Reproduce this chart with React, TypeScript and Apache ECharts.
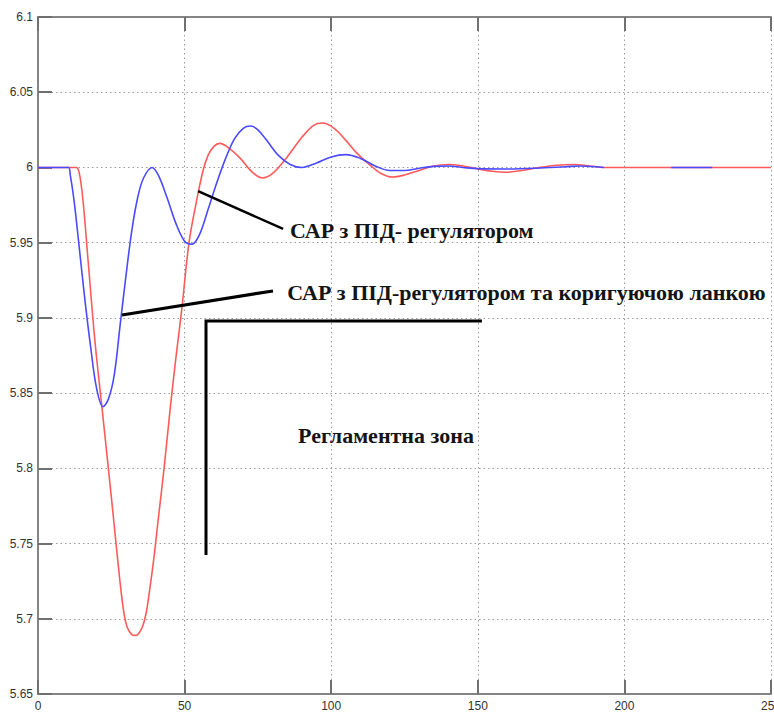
import React, { useEffect, useRef } from "react";
import * as echarts from "echarts";

// Time axis ticks and value axis ticks
const xTicks = [0, 50, 100, 150, 200, 250];
const yMin = 5.65;
const yMax = 6.1;

// САР з ПІД-регулятором (blue)
const pidT = [0, 10.4, 11, 12.3, 14, 16, 18, 20, 22.2, 24, 26, 28, 30, 32, 34, 36, 38.9, 41, 44, 47, 50, 52.5, 55, 58, 61, 64, 67, 70, 72.5, 75, 78, 82, 86, 90, 95, 100, 105, 110, 115, 120, 125, 130, 135, 140, 145, 150, 160, 170, 180, 185, 193];
const pidY = [6.0, 6.0, 5.995, 5.978, 5.948, 5.912, 5.88, 5.853, 5.841, 5.846, 5.862, 5.895, 5.928, 5.958, 5.98, 5.993, 6.0, 5.995, 5.98, 5.963, 5.951, 5.949, 5.955, 5.972, 5.99, 6.006, 6.019, 6.026, 6.0275, 6.025, 6.018, 6.008, 6.002, 6.0, 6.003, 6.007, 6.0085, 6.006, 6.001, 5.998, 5.998, 5.9995, 6.0007, 6.001, 6.0, 5.9992, 5.999, 5.9995, 6.0005, 6.001, 6.0];
const pidTailT = [216, 230];
const pidTailY = [6.0, 6.0];

// САР з ПІД-регулятором та коригуючою ланкою (red)
const corrT = [0, 13, 14, 15.3, 17, 19.4, 22, 24, 26, 28, 29.3, 30.5, 32, 33, 34, 35.5, 36.8, 38, 39.5, 41, 43, 45, 47, 49, 51.5, 54, 56.3, 58, 60, 62, 65, 69, 73, 76.5, 80, 85, 90, 94, 97, 101, 105, 109, 113, 117, 121, 125, 130, 135, 140, 145, 150, 155, 160, 165, 171, 177, 183, 188, 193, 250];
const corrY = [6.0, 6.0, 5.997, 5.979, 5.94, 5.885, 5.837, 5.8, 5.762, 5.724, 5.704, 5.694, 5.6895, 5.689, 5.6895, 5.694, 5.703, 5.718, 5.74, 5.766, 5.8, 5.838, 5.873, 5.905, 5.95, 5.977, 5.998, 6.008, 6.014, 6.016, 6.013, 6.006, 5.997, 5.993, 5.996, 6.007, 6.02, 6.028, 6.0295, 6.026, 6.018, 6.009, 6.002, 5.996, 5.9936, 5.995, 5.998, 6.001, 6.002, 6.001, 5.999, 5.9975, 5.9968, 5.998, 6.0, 6.0015, 6.002, 6.001, 6.0, 6.0];

// Annotations (data coordinates)
const pointer1 = [[54.6, 5.9843], [83.6, 5.9591]];
const pointer2 = [[28.65, 5.9019], [80.15, 5.9179]];
const zoneCorner = [57.3, 5.8979];
const zoneBottomY = 5.7424;
const zoneRightX = 151.4;
const label1 = { text: "САР з ПІД- регулятором", at: [85.95, 5.9584] };
const label2 = { text: "САР з ПІД-регулятором та коригуючою ланкою", at: [85.0, 5.9172] };
const label3 = { text: "Регламентна зона", at: [88.68, 5.8218] };

const zip = (t: number[], y: number[]) => t.map((v, i) => [v, y[i]]);

export default function App() {
  const ref = useRef<HTMLDivElement>(null);
  useEffect(() => {
    if (!ref.current) return;
    const chart = echarts.init(ref.current, undefined, { renderer: "svg" });
    const axisLine = { show: true, lineStyle: { color: "#858585", width: 2 } };
    const axisTick = { show: true, inside: true, length: 14, lineStyle: { color: "#707070", width: 2 } };
    const splitLine = { show: true, lineStyle: { color: "#9a9a9a", width: 1, type: [1.5, 3] as any } };
    const label = { color: "#333", fontFamily: "Liberation Sans", fontSize: 12 };
    const pidData: any[] = zip(pidT, pidY);
    pidData.push([200, null]);
    zip(pidTailT, pidTailY).forEach((p) => pidData.push(p));
    chart.setOption({
      animation: false,
      backgroundColor: "#fff",
      grid: { left: 38, right: 3, top: 17, bottom: 19, containLabel: false, outerBoundsMode: "none" },
      xAxis: [
        {
          type: "value", min: xTicks[0], max: xTicks[xTicks.length - 1], interval: 50,
          position: "bottom", axisLine, axisTick, splitLine,
          axisLabel: { ...label, margin: 6, showMaxLabel: true, hideOverlap: false },
        },
        {
          type: "value", min: xTicks[0], max: xTicks[xTicks.length - 1], interval: 50,
          position: "top", axisLine, axisTick, splitLine: { show: false }, axisLabel: { show: false },
        },
      ],
      yAxis: [
        {
          type: "value", min: yMin, max: yMax, interval: 0.05,
          axisLine, axisTick, splitLine,
          axisLabel: { ...label, margin: 5, formatter: (v: number) => String(parseFloat(v.toFixed(2))) },
        },
      ],
      series: [
        {
          type: "line", data: zip(corrT, corrY), showSymbol: false, smooth: 0.35,
          lineStyle: { color: "#ff5a5a", width: 1.6 }, z: 2,
        },
        {
          type: "line", data: pidData, showSymbol: false, smooth: 0.35, connectNulls: false,
          lineStyle: { color: "#4a4aff", width: 1.6 }, z: 3,
        },
      ],
    });
    const px = (p: number[]) => chart.convertToPixel({ xAxisIndex: 0, yAxisIndex: 0 }, p) as number[];
    const c = px(zoneCorner);
    const b = px([zoneCorner[0], zoneBottomY]);
    const r = px([zoneRightX, zoneCorner[1]]);
    const p1a = px(pointer1[0]), p1b = px(pointer1[1]);
    const p2a = px(pointer2[0]), p2b = px(pointer2[1]);
    const txt = (l: { text: string; at: number[] }) => {
      const p = px(l.at);
      return {
        type: "text", x: p[0], y: p[1], z: 10,
        style: {
          text: l.text, fontFamily: "'Liberation Serif', 'DejaVu Serif', serif", fontWeight: "bold", fontSize: 22,
          fill: "#141414", align: "left", verticalAlign: "middle",
        },
      };
    };
    chart.setOption({
      graphic: [
        { type: "line", z: 10, shape: { x1: p1a[0], y1: p1a[1], x2: p1b[0], y2: p1b[1] }, style: { stroke: "#000", lineWidth: 2.5 } },
        { type: "line", z: 10, shape: { x1: p2a[0], y1: p2a[1], x2: p2b[0], y2: p2b[1] }, style: { stroke: "#000", lineWidth: 3.2 } },
        { type: "polyline", z: 10, shape: { points: [b, c, r] }, style: { stroke: "#000", lineWidth: 3, fill: "none" } },
        txt(label1), txt(label2), txt(label3),
      ],
    });
    return () => chart.dispose();
  }, []);
  return <div ref={ref} style={{ position: "fixed", left: 0, top: 0, width: 774, height: 713 }} />;
}
